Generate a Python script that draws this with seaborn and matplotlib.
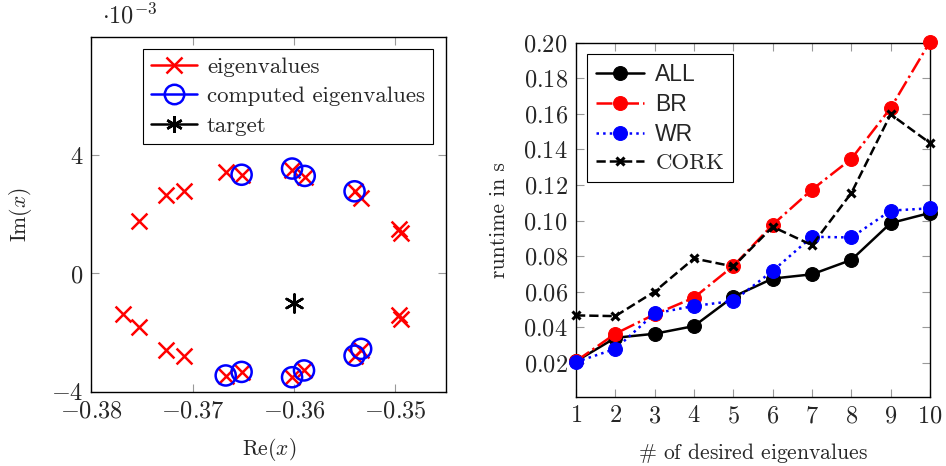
import matplotlib
matplotlib.use("Agg")
import matplotlib.pyplot as plt
from matplotlib.lines import Line2D
import seaborn as sns

# eigenvalues (real part, imaginary part in 1e-3)
eig_re = [-0.37534, -0.37262, -0.37085, -0.36675, -0.36518, -0.36020, -0.35895,
          -0.35403, -0.35338, -0.34961, -0.34944,
          -0.37689, -0.37534, -0.37262, -0.37085, -0.36675, -0.36518, -0.36020,
          -0.35902, -0.35403, -0.35338, -0.34961, -0.34944]
eig_im = [1.77, 2.64, 2.78, 3.43, 3.34, 3.50, 3.28, 2.79, 2.56, 1.49, 1.36,
          -1.37, -1.81, -2.60, -2.80, -3.48, -3.33, -3.51, -3.28, -2.78, -2.58, -1.42, -1.54]

comp_re = [-0.36518, -0.36020, -0.35895, -0.35403,
           -0.36675, -0.36518, -0.36020, -0.35902, -0.35403, -0.35338]
comp_im = [3.34, 3.55, 3.30, 2.78, -3.45, -3.33, -3.51, -3.28, -2.78, -2.55]

target_re = [-0.36]
target_im = [-1.0]

# runtimes
n_eig = [1, 2, 3, 4, 5, 6, 7, 8, 9, 10]
t_all = [0.0209, 0.0341, 0.0364, 0.0407, 0.0572, 0.0674, 0.0698, 0.0779, 0.0986, 0.1043]
t_br = [0.0210, 0.0364, 0.0473, 0.0567, 0.0745, 0.0977, 0.1174, 0.1347, 0.1633, 0.2005]
t_wr = [0.0205, 0.0279, 0.0478, 0.0520, 0.0548, 0.0717, 0.0909, 0.0905, 0.1056, 0.1069]
t_cork = [0.0467, 0.0463, 0.0601, 0.0787, 0.0742, 0.0965, 0.0862, 0.1155, 0.1597, 0.1436]

sns.set_style("ticks")
plt.rcParams["font.family"] = ["cmr10", "DejaVu Serif"]
plt.rcParams["mathtext.fontset"] = "cm"
plt.rcParams["axes.unicode_minus"] = False
plt.rcParams["axes.formatter.use_mathtext"] = True

fig = plt.figure(figsize=(9.46, 4.66), dpi=100)
ax1 = fig.add_axes([0.0967, 0.1594, 0.3748, 0.7612])
ax2 = fig.add_axes([0.6089, 0.1487, 0.3742, 0.7597])

tick_fs = 17.5
label_fs = 15.5

# left: spectrum
sns.scatterplot(x=eig_re, y=eig_im, ax=ax1, marker="x", s=130, color="red",
                linewidth=1.8, legend=False, zorder=3, clip_on=False)
sns.scatterplot(x=comp_re, y=comp_im, ax=ax1, marker="o", s=210, color="blue",
                facecolor="none", edgecolor="blue", linewidth=1.8, legend=False,
                zorder=4, clip_on=False)
sns.scatterplot(x=target_re, y=target_im, ax=ax1, marker=(6, 2, 0), s=170, color="black",
                edgecolor="black", linewidth=1.8, legend=False, zorder=5)

ax1.set_xlim(-0.38, -0.345)
ax1.set_ylim(-4, 8)
xt = [-0.38, -0.37, -0.36, -0.35]
ax1.set_xticks(xt)
ax1.set_xticklabels([r"$%.2f$" % v for v in xt])
yt = [-4, 0, 4]
ax1.set_yticks(yt)
ax1.set_yticklabels([r"$%d$" % v for v in yt])
ax1.set_xlabel(r"Re$(x)$", fontsize=label_fs, labelpad=10)
ax1.set_ylabel(r"Im$(x)$", fontsize=label_fs, labelpad=12)
ax1.text(0.03, 1.025, r"$\cdot 10^{-3}$", transform=ax1.transAxes, fontsize=tick_fs,
         ha="left", va="bottom")

handles1 = [
    Line2D([], [], color="red", marker="x", markersize=11, mew=1.8, lw=1.8),
    Line2D([], [], color="blue", marker="o", markersize=14, mfc="none", mew=1.8, lw=1.8),
    Line2D([], [], color="black", marker=(6, 2, 0), markersize=12, mew=1.8, lw=1.8),
]
leg1 = ax1.legend(handles1, ["eigenvalues", "computed eigenvalues", "target"],
                  loc="upper right", bbox_to_anchor=(0.963, 0.967), fontsize=16.5,
                  frameon=True, fancybox=False, edgecolor="black", framealpha=1,
                  handlelength=2.0, labelspacing=0.42, borderpad=0.35, handletextpad=0.45,
                  borderaxespad=0)
leg1.get_frame().set_linewidth(0.8)

# right: runtimes
sns.lineplot(x=n_eig, y=t_all, ax=ax2, color="black", marker="o", markersize=10,
             linewidth=1.8, linestyle="-", label="ALL", zorder=3, clip_on=False)
sns.lineplot(x=n_eig, y=t_br, ax=ax2, color="red", marker="o", markersize=10,
             linewidth=1.8, linestyle="-.", label="BR", zorder=4, clip_on=False)
sns.lineplot(x=n_eig, y=t_wr, ax=ax2, color="blue", marker="o", markersize=10,
             linewidth=1.8, linestyle=":", label="WR", zorder=5, clip_on=False)
sns.lineplot(x=n_eig, y=t_cork, ax=ax2, color="black", marker="x", markersize=6,
             mew=2.2, linewidth=1.8, linestyle="--", label="CORK", zorder=6, clip_on=False)
for ln in ax2.get_lines():
    ln.set_markeredgecolor(ln.get_color())

ax2.set_xlim(1, 10)
ax2.set_ylim(0.001, 0.2)
ax2.set_xticks(n_eig)
ax2.set_xticklabels([r"$%d$" % v for v in n_eig])
yt2 = [0.02, 0.04, 0.06, 0.08, 0.10, 0.12, 0.14, 0.16, 0.18, 0.20]
ax2.set_yticks(yt2)
ax2.set_yticklabels([r"$%.2f$" % v for v in yt2])
ax2.set_xlabel(r"$\#$ of desired eigenvalues", fontsize=label_fs, labelpad=10)
ax2.set_ylabel("runtime in s", fontsize=label_fs, labelpad=10)

leg2 = ax2.legend(loc="upper left", bbox_to_anchor=(0.03, 0.968), fontsize=16.5,
                  frameon=True, fancybox=False, edgecolor="black", framealpha=1,
                  handlelength=2.1, labelspacing=0.3, borderpad=0.4, handletextpad=0.5,
                  borderaxespad=0)
leg2.get_frame().set_linewidth(0.8)
for txt in leg2.get_texts()[:3]:
    txt.set_family(["Liberation Sans", "DejaVu Sans"])

for ax in (ax1, ax2):
    ax.tick_params(direction="in", length=6, width=0.8, color="0.6", top=True,
                   right=True, labelsize=tick_fs, pad=6)
    for sp in ax.spines.values():
        sp.set_visible(True)
        sp.set_linewidth(1.0)
        sp.set_color("black")
        sp.set_zorder(2)

fig.savefig("out.png", dpi=100)
